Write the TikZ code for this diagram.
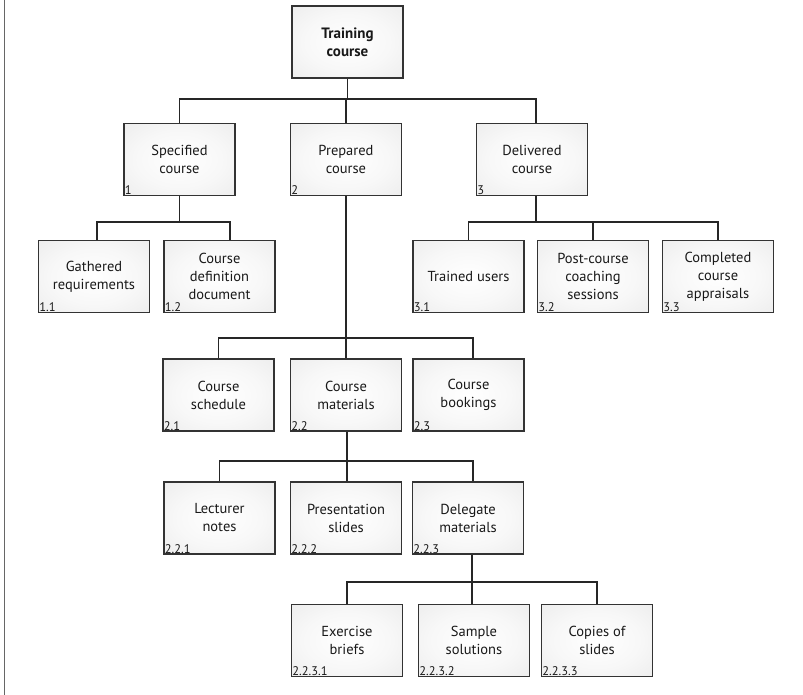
\documentclass[tikz,border=0pt]{standalone}
\usepackage{fontspec}
\setmainfont{PT Sans}
\pgfdeclareradialshading{boxshade}{\pgfpoint{0bp}{0bp}}{color(0bp)=(white); color(20bp)=(black!3); color(40bp)=(black!8); color(50bp)=(black!12)}
\begin{document}
\begin{tikzpicture}[x=1pt,y=-1pt,
  box/.style={draw=black!80, line width=1.3pt, minimum width=111pt, minimum height=72pt,
    inner sep=0pt, shading=boxshade,
    align=center, font=\fontsize{14.5}{18}\selectfont, text=black!90},
  num/.style={font=\fontsize{12.5}{12.5}\selectfont, anchor=south west, inner sep=1.3pt, text=black!90},
  conn/.style={draw=black!85, line width=1.3pt}]
\useasboundingbox (0,0) rectangle (803,695);
\draw[black!60, line width=1.5pt] (4.5,0) -- (4.5,695);

% boxes
\node[box, font={\fontsize{15}{18}\selectfont\bfseries}] (top) at (347.5,42) {Training\\course};
\node[box] (spec) at (179.5,159.5) {Specified\\course};
\node[box] (prep) at (346,159.5) {Prepared\\course};
\node[box] (deliv) at (532,159.5) {Delivered\\course};

\node[box] (gath) at (94,276.5) {Gathered\\requirements};
\node[box] (cdd) at (219.5,276.5) {Course\\definition\\document};

\node[box] (trained) at (468.5,276.5) {Trained users};
\node[box] (post) at (593,276.5) {Post-course\\coaching\\sessions};
\node[box] (appr) at (718,276.5) {Completed\\course\\appraisals};

\node[box] (sched) at (218.5,395) {Course\\schedule};
\node[box] (mat) at (346,395) {Course\\materials};
\node[box] (book) at (468.5,395) {Course\\bookings};

\node[box] (lect) at (219.5,518) {Lecturer\\notes};
\node[box] (pres) at (346,518) {Presentation\\slides};
\node[box] (deleg) at (468,518) {Delegate\\materials};

\node[box] (exer) at (347,640.5) {Exercise\\briefs};
\node[box] (samp) at (474,640.5) {Sample\\solutions};
\node[box] (copy) at (597,640.5) {Copies of\\slides};

% numbers
\node[num] (l1) at (spec.south west) {1};
\node[num] (l2) at (prep.south west) {2};
\node[num] (l3) at (deliv.south west) {3};
\node[num] (l11) at (gath.south west) {1.1};
\node[num] (l12) at (cdd.south west) {1.2};
\node[num] (l31) at (trained.south west) {3.1};
\node[num] (l32) at (post.south west) {3.2};
\node[num] (l33) at (appr.south west) {3.3};
\node[num] (l21) at (sched.south west) {2.1};
\node[num] (l22) at (mat.south west) {2.2};
\node[num] (l23) at (book.south west) {2.3};
\node[num] (l221) at (lect.south west) {2.2.1};
\node[num] (l222) at (pres.south west) {2.2.2};
\node[num] (l223) at (deleg.south west) {2.2.3};
\node[num] (l2231) at (exer.south west) {2.2.3.1};
\node[num] (l2232) at (samp.south west) {2.2.3.2};
\node[num] (l2233) at (copy.south west) {2.2.3.3};

% connectors
\draw[conn] (top.south) -- (top.south |- 0,99);
\draw[conn] (spec.north) -- (spec.north |- 0,99) -- ([xshift=4pt]deliv.north |- 0,99) -- ([xshift=4pt]deliv.north);
\draw[conn] (prep.north) -- (prep.north |- 0,99);

\draw[conn] (spec.south) -- (spec.south |- 0,222);
\draw[conn] ([xshift=3pt]gath.north) -- ([xshift=3pt]gath.north |- 0,222) -- ([xshift=10.5pt]cdd.north |- 0,222) -- ([xshift=10.5pt]cdd.north);

\draw[conn] ([xshift=4pt]deliv.south) -- ([xshift=4pt]deliv.south |- 0,222);
\draw[conn] (trained.north) -- (trained.north |- 0,222) -- (appr.north |- 0,222) -- (appr.north);
\draw[conn] (post.north) -- (post.north |- 0,222);

\draw[conn] (prep.south) -- (prep.south |- 0,338);
\draw[conn] (sched.north) -- (sched.north |- 0,338) -- ([xshift=4.5pt]book.north |- 0,338) -- ([xshift=4.5pt]book.north);
\draw[conn] (mat.north) -- (mat.north |- 0,338);

\draw[conn] ([xshift=1pt]mat.south) -- ([xshift=1pt]mat.south |- 0,461);
\draw[conn] (lect.north) -- (lect.north |- 0,461) -- ([xshift=5pt]deleg.north |- 0,461) -- ([xshift=5pt]deleg.north);
\draw[conn] ([xshift=1pt]pres.north) -- ([xshift=1pt]pres.north |- 0,461);

\draw[conn] ([xshift=4pt]deleg.south) -- ([xshift=4pt]deleg.south |- 0,582);
\draw[conn] (exer.north) -- (exer.north |- 0,582) -- (copy.north |- 0,582) -- (copy.north);
\draw[conn] ([xshift=-2pt]samp.north) -- ([xshift=-2pt]samp.north |- 0,582);
\end{tikzpicture}
\end{document}
